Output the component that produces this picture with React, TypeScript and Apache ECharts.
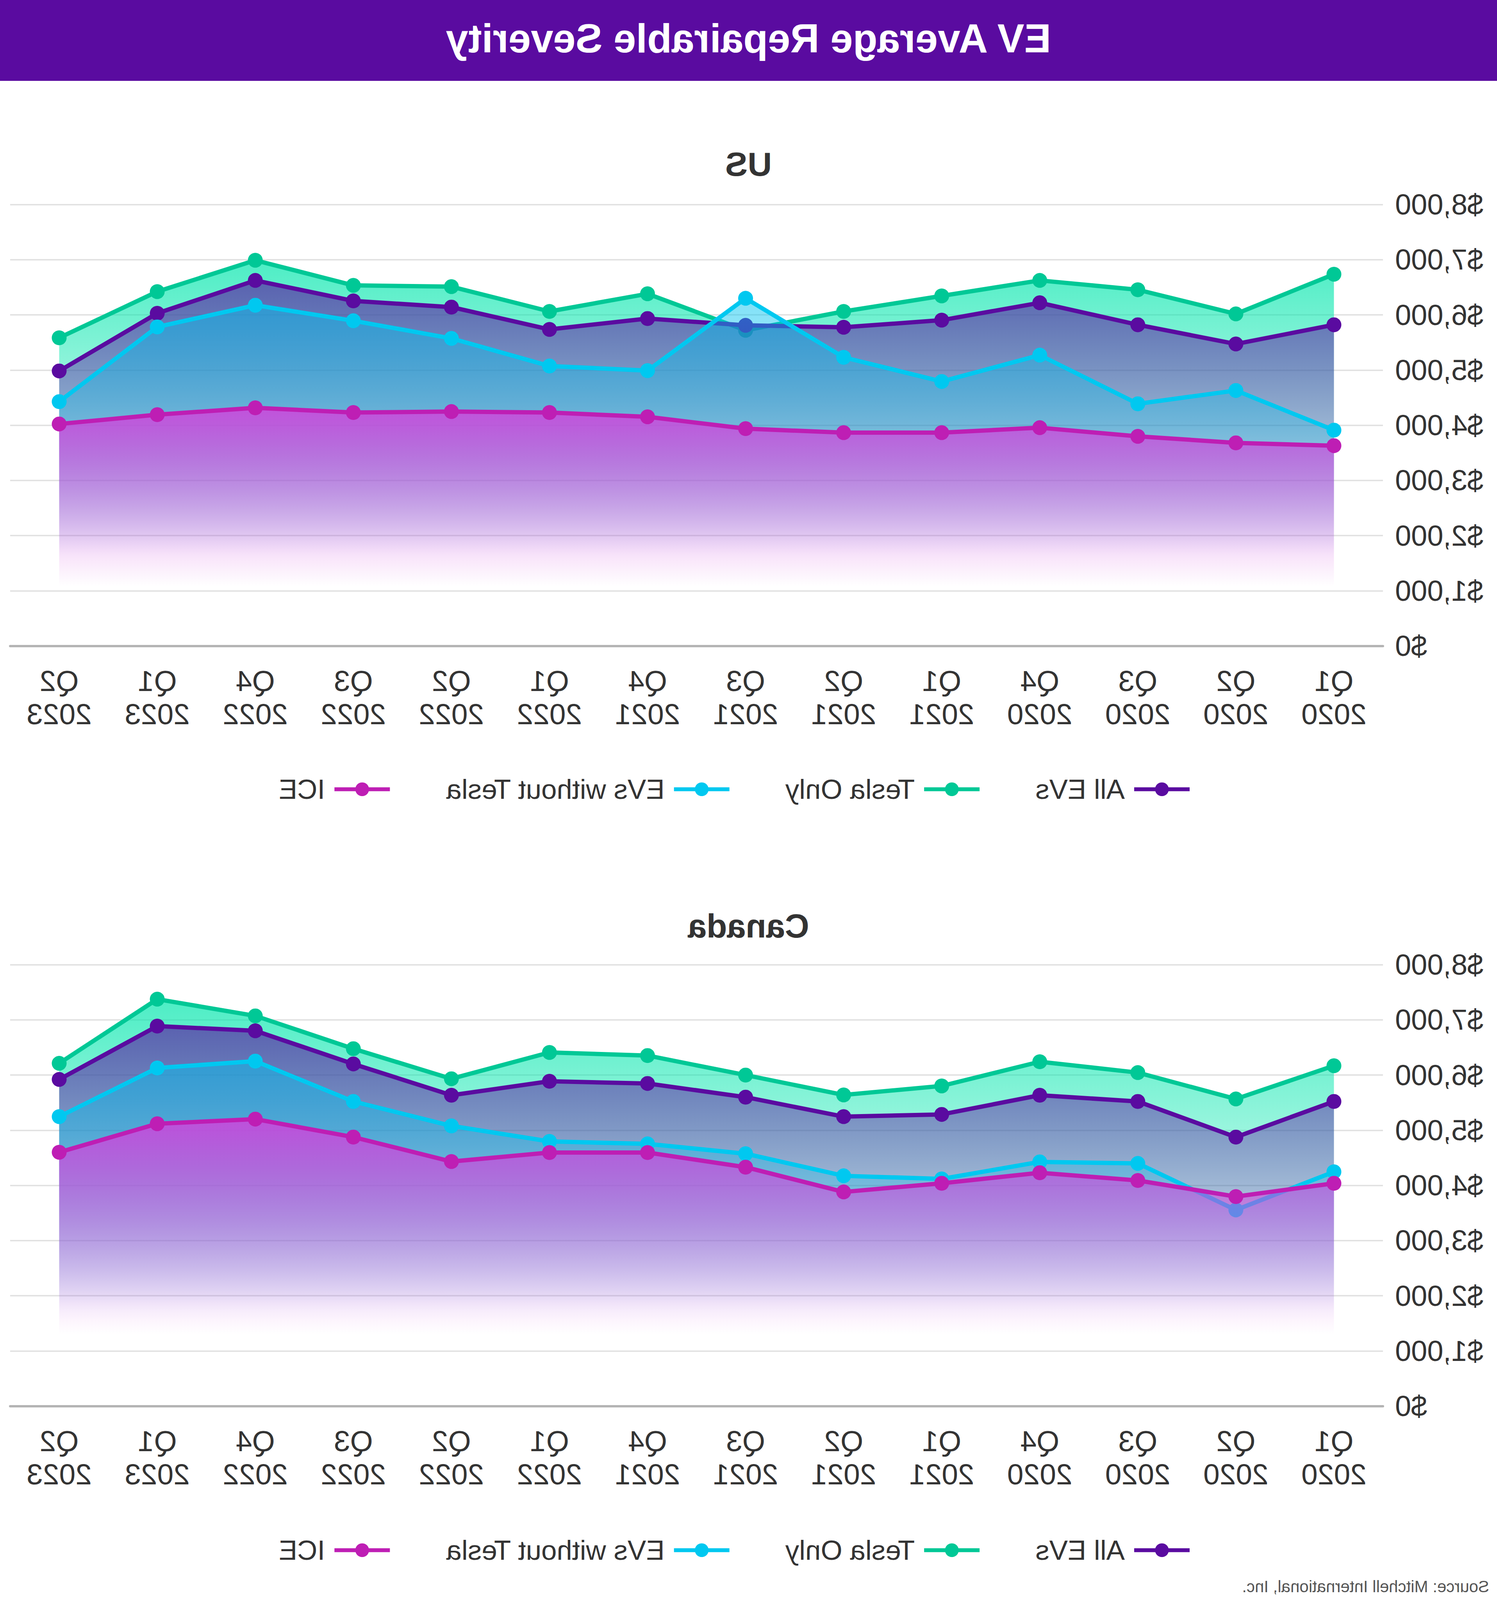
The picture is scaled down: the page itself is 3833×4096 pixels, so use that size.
import React, { useEffect, useRef } from 'react';
import * as echarts from 'echarts';

const W = 3833;
const H = 4096;
const FONT = '"Liberation Sans", Arial, Helvetica, sans-serif';

// ---------- data ----------
const quarters = [
  'Q1 2020', 'Q2 2020', 'Q3 2020', 'Q4 2020',
  'Q1 2021', 'Q2 2021', 'Q3 2021', 'Q4 2021',
  'Q1 2022', 'Q2 2022', 'Q3 2022', 'Q4 2022',
  'Q1 2023', 'Q2 2023',
];
const seriesNames = ['All EVs', 'Tesla Only', 'EVs without Tesla', 'ICE'];

const usAllEVs = [5820, 5472, 5820, 6219, 5904, 5775, 5810, 5933, 5736, 6140, 6253, 6624, 6028, 4983];
const usTeslaOnly = [6736, 6017, 6455, 6624, 6343, 6062, 5720, 6382, 6062, 6511, 6534, 6989, 6421, 5584];
const usEVsWithoutTesla = [3910, 4629, 4388, 5270, 4792, 5230, 6300, 4989, 5073, 5573, 5893, 6174, 5781, 4427];
const usICE = [3629, 3680, 3798, 3955, 3865, 3865, 3938, 4152, 4230, 4247, 4230, 4315, 4191, 4022];

const caAllEVs = [5522, 4876, 5522, 5635, 5287, 5247, 5600, 5848, 5888, 5635, 6202, 6803, 6888, 5921];
const caTeslaOnly = [6169, 5567, 6045, 6242, 5803, 5640, 6000, 6354, 6410, 5933, 6478, 7073, 7376, 6213];
const caEVsWithoutTesla = [4247, 3556, 4399, 4427, 4118, 4174, 4575, 4753, 4798, 5079, 5522, 6253, 6129, 5247];
const caICE = [4039, 3798, 4090, 4230, 4039, 3882, 4331, 4596, 4596, 4433, 4876, 5202, 5118, 4601];

const yMin = 0;
const yMax = 8000;
const yStep = 1000;

const chartTitle = 'EV Average Repairable Severity';
const panelTitles = ['US', 'Canada'];
const sourceText = 'Source: Mitchell International, Inc.';

// ---------- styles ----------
const lineColors = ['#5A0BA0', '#00C896', '#00C8F0', '#BE1EB4'];
const areaRGB = [
  [90, 11, 160],
  [0, 230, 172],
  [0, 195, 240],
  [210, 66, 220],
];
const areaTopAlpha = [0.62, 0.7, 0.5, 0.85];
// drawing order: Tesla below All EVs, then EVs without Tesla, then ICE on top
const seriesZ = [3, 2, 4, 5];

const rgba = (c: number[], a: number) => `rgba(${c[0]},${c[1]},${c[2]},${a})`;

const gridLeft = 292;
const gridWidth = 3515;
const gridHeight = 1130;
const gridTops = [523.5, 2469.7];
const legendTops = [1985, 3933];

function makeSeries(data: number[], i: number, axis: number) {
  return {
    type: 'line',
    name: seriesNames[i],
    data,
    xAxisIndex: axis,
    yAxisIndex: axis,
    z: seriesZ[i],
    symbol: 'circle',
    symbolSize: 38,
    showSymbol: true,
    showAllSymbol: true,
    lineStyle: { color: lineColors[i], width: 11 },
    itemStyle: { color: lineColors[i] },
    areaStyle: {
      opacity: 1,
      color: new echarts.graphic.LinearGradient(0, 0, 0, 1, [
        { offset: 0, color: rgba(areaRGB[i], areaTopAlpha[i]) },
        { offset: 0.75, color: rgba(areaRGB[i], 0) },
        { offset: 1, color: rgba(areaRGB[i], 0) },
      ]),
    },
    emphasis: { disabled: true },
    silent: true,
  };
}

function makeXAxis(idx: number) {
  return {
    type: 'category',
    gridIndex: idx,
    data: quarters,
    boundaryGap: true,
    axisLine: { show: true, lineStyle: { color: '#b4b4b4', width: 6 } },
    axisTick: { show: false },
    splitLine: { show: false },
    axisLabel: {
      interval: 0,
      margin: 47,
      fontSize: 75,
      lineHeight: 85,
      color: '#333333',
      fontFamily: FONT,
      formatter: (v: string) => v.replace(' ', '\n'),
    },
  };
}

function makeYAxis(idx: number) {
  return {
    type: 'value',
    gridIndex: idx,
    min: yMin,
    max: yMax,
    interval: yStep,
    axisLine: { show: false },
    axisTick: { show: false },
    splitLine: { show: true, lineStyle: { color: '#e0e0e0', width: 3.5 } },
    axisLabel: {
      margin: 31,
      fontSize: 74,
      color: '#333333',
      fontFamily: FONT,
      formatter: (v: number) => '$' + v.toLocaleString('en-US'),
    },
  };
}

function makeLegend(idx: number) {
  return {
    data: seriesNames,
    orient: 'horizontal',
    left: 782,
    top: legendTops[idx],
    padding: 0,
    itemWidth: 142,
    itemHeight: 44,
    itemGap: 138,
    selectedMode: false,
    lineStyle: { width: 10 },
    textStyle: {
      fontSize: 71,
      color: '#333333',
      fontFamily: FONT,
      padding: [0, 0, 0, 19],
    },
  };
}

export default function App() {
  const ref = useRef<HTMLDivElement>(null);

  useEffect(() => {
    if (!ref.current) return;
    const chart = echarts.init(ref.current, undefined, { renderer: 'svg', width: W, height: H });
    const option = {
      animation: false,
      backgroundColor: '#ffffff',
      textStyle: { fontFamily: FONT },
      grid: gridTops.map((t) => ({
        left: gridLeft,
        top: t,
        width: gridWidth,
        height: gridHeight,
        containLabel: false,
      })),
      xAxis: [makeXAxis(0), makeXAxis(1)],
      yAxis: [makeYAxis(0), makeYAxis(1)],
      legend: [makeLegend(0), makeLegend(1)],
      series: [
        makeSeries(usAllEVs, 0, 0),
        makeSeries(usTeslaOnly, 1, 0),
        makeSeries(usEVsWithoutTesla, 2, 0),
        makeSeries(usICE, 3, 0),
        makeSeries(caAllEVs, 0, 1),
        makeSeries(caTeslaOnly, 1, 1),
        makeSeries(caEVsWithoutTesla, 2, 1),
        makeSeries(caICE, 3, 1),
      ],
      graphic: [
        {
          type: 'rect',
          left: 0,
          top: 0,
          shape: { width: W, height: 207 },
          style: { fill: '#5A0BA0' },
          z: 0,
          silent: true,
        },
        {
          type: 'text',
          x: W / 2,
          y: 98,
          style: {
            text: chartTitle,
            fill: '#ffffff',
            fontSize: 103,
            fontWeight: 'bold',
            fontFamily: FONT,
            align: 'center',
            verticalAlign: 'middle',
          },
          silent: true,
        },
        {
          type: 'text',
          x: W / 2,
          y: 420,
          style: {
            text: panelTitles[0],
            fill: '#333333',
            fontSize: 86,
            fontWeight: 'bold',
            fontFamily: FONT,
            align: 'center',
            verticalAlign: 'middle',
          },
          silent: true,
        },
        {
          type: 'text',
          x: W / 2,
          y: 2370,
          style: {
            text: panelTitles[1],
            fill: '#333333',
            fontSize: 86,
            fontWeight: 'bold',
            fontFamily: FONT,
            align: 'center',
            verticalAlign: 'middle',
          },
          silent: true,
        },
        {
          type: 'text',
          x: 20,
          y: 4061,
          style: {
            text: sourceText,
            fill: '#555555',
            fontSize: 42,
            fontFamily: FONT,
            align: 'left',
            verticalAlign: 'middle',
          },
          silent: true,
        },
      ],
    };
    chart.setOption(option as any);
    return () => {
      chart.dispose();
    };
  }, []);

  return (
    <div
      ref={ref}
      style={{
        position: 'absolute',
        left: 0,
        top: 0,
        width: W,
        height: H,
        transform: 'scaleX(-1)',
        transformOrigin: 'center center',
        background: '#ffffff',
      }}
    />
  );
}
